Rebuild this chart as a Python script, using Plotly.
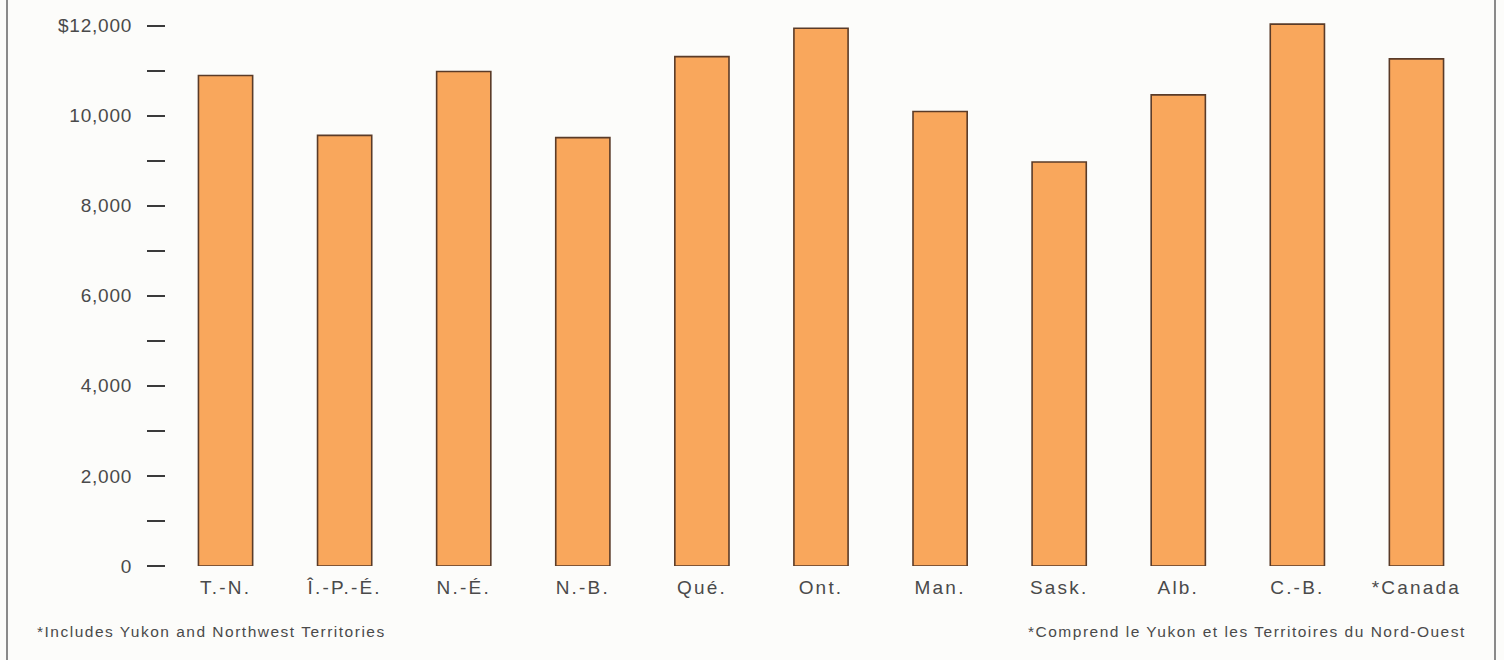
import plotly.graph_objects as go

categories = ["T.-N.", "Î.-P.-É.", "N.-É.", "N.-B.", "Qué.", "Ont.", "Man.", "Sask.", "Alb.", "C.-B.", "*Canada"]
values = [10890, 9560, 10980, 9510, 11310, 11940, 10090, 8970, 10460, 12030, 11260]

ytick_vals = [0, 2000, 4000, 6000, 8000, 10000, 12000]
ytick_text = ["0", "2,000", "4,000", "6,000", "8,000", "10,000", "$12,000"]
yminor_vals = [1000, 3000, 5000, 7000, 9000, 11000]

note_en = "*Includes Yukon and Northwest Territories"
note_fr = "*Comprend le Yukon et les Territoires du Nord-Ouest"

FONT = "Liberation Sans, Arial, Helvetica, sans-serif"
TXT = "#4a4a4a"


def spaced(s, px):
    return '<span style="letter-spacing:%.1fpx">%s</span>' % (px, s)


fig = go.Figure(go.Bar(
    x=list(range(len(categories))),
    y=values,
    width=0.455,
    marker=dict(color="#f9a75c", line=dict(color="#5a3b28", width=1.6)),
    hoverinfo="skip",
))

L, R, T, B = 166, 28, 3, 94
W = 1504 - L - R
H = 660 - T - B


def px_x(p):
    return (p - L) / W


def px_y(p):
    return 1 - (p - T) / H


fig.update_layout(
    width=1504, height=660,
    margin=dict(l=L, r=R, t=T, b=B),
    paper_bgcolor="#fcfcfa",
    plot_bgcolor="#fcfcfa",
    showlegend=False,
    font=dict(family=FONT, color=TXT),
    xaxis=dict(
        range=[-0.5, 10.5],
        tickvals=list(range(len(categories))),
        ticktext=[spaced(c, 2.2) for c in categories],
        showgrid=False, zeroline=False, showline=False,
        ticks="", tickfont=dict(size=19, color=TXT),
        ticklabelstandoff=8,
    ),
    yaxis=dict(
        range=[0, 12500],
        tickvals=ytick_vals,
        ticktext=[spaced(t, 0.8) for t in ytick_text],
        showgrid=False, zeroline=False, showline=False,
        ticks="outside", ticklen=18, tickwidth=2, tickcolor="#3a3a3a",
        tickfont=dict(size=19, color=TXT),
        ticklabelstandoff=11,
        minor=dict(tickvals=yminor_vals, ticks="outside", ticklen=18,
                   tickwidth=2, tickcolor="#3a3a3a", showgrid=False),
    ),
    annotations=[
        dict(text=spaced(note_en, 1.5), x=px_x(35), y=px_y(631), xref="paper", yref="paper",
             showarrow=False, font=dict(size=15.5, color=TXT), xanchor="left", yanchor="middle"),
        dict(text=spaced(note_fr, 1.5), x=px_x(1468), y=px_y(631), xref="paper", yref="paper",
             showarrow=False, font=dict(size=15.5, color=TXT), xanchor="right", yanchor="middle"),
    ],
)

for xp in (7, 1495):
    fig.add_shape(type="line", xref="paper", yref="paper",
                  x0=px_x(xp), x1=px_x(xp), y0=px_y(0), y1=px_y(660),
                  line=dict(color="#8a8a8a", width=2))

fig.write_html("out.html")
